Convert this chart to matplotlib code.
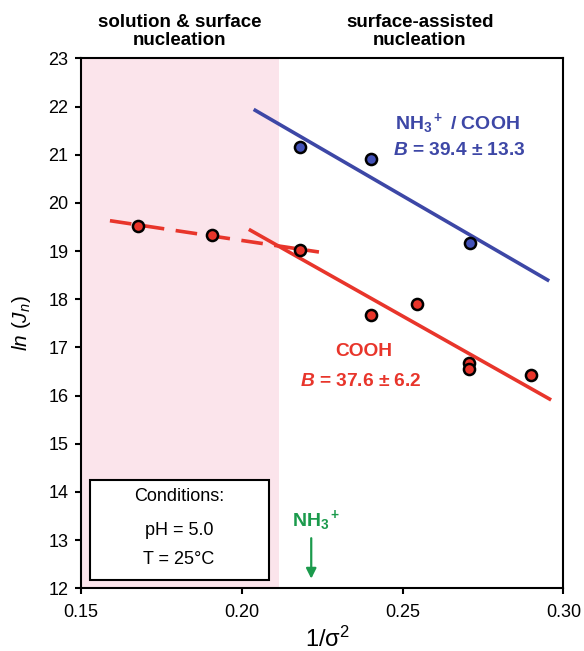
import matplotlib
matplotlib.use("Agg")
import matplotlib.pyplot as plt
from matplotlib.patches import Rectangle

plt.rcParams['font.family'] = ['Liberation Sans', 'DejaVu Sans']
plt.rcParams['mathtext.fontset'] = 'custom'
plt.rcParams['mathtext.rm'] = 'Liberation Sans'
plt.rcParams['mathtext.it'] = 'Liberation Sans:italic'
plt.rcParams['mathtext.bf'] = 'Liberation Sans:bold'
plt.rcParams['mathtext.bfit'] = 'Liberation Sans:bold:italic'

# data
cooh_x = [0.1676, 0.1906, 0.2182, 0.2403, 0.2546, 0.2706, 0.2706, 0.2900]
cooh_y = [19.52, 19.34, 19.02, 17.68, 17.90, 16.68, 16.56, 16.43]
nh3_x = [0.2182, 0.2403, 0.2710]
nh3_y = [21.16, 20.91, 19.16]

# fitted lines (end points)
fit_nh3_x = [0.2037, 0.2956]
fit_nh3_y = [21.94, 18.38]
fit_cooh_x = [0.2022, 0.2962]
fit_cooh_y = [19.45, 15.91]
fit_sol_x = [0.159, 0.224]
fit_sol_y = [19.63, 18.98]

shade_end = 0.2116
arrow_x = 0.2216

red = '#e8352b'
blue = '#3d47a6'
green = '#1b9a4c'

fig = plt.figure(figsize=(5.84, 6.51), dpi=100)
ax = fig.add_axes([0.1387, 0.0963, 0.8259, 0.8141])

ax.axvspan(0.15, shade_end, color='#fbe4eb', lw=0, zorder=0)

ax.plot(fit_nh3_x, fit_nh3_y, color=blue, lw=2.6, solid_capstyle='butt', zorder=2)
ax.plot(fit_cooh_x, fit_cooh_y, color=red, lw=2.6, solid_capstyle='butt', zorder=2)
ax.plot(fit_sol_x, fit_sol_y, color=red, lw=2.6, dashes=(6, 3.2), zorder=2)

ax.plot(cooh_x, cooh_y, 'o', ms=8, mfc=red, mec='black', mew=1.8, zorder=3)
ax.plot(nh3_x, nh3_y, 'o', ms=8, mfc='#4352b8', mec='black', mew=1.8, zorder=3)

ax.set_xlim(0.15, 0.30)
ax.set_ylim(12, 23)
ax.set_xticks([0.15, 0.20, 0.25, 0.30])
ax.set_xticklabels(['0.15', '0.20', '0.25', '0.30'])
ax.set_yticks(range(12, 24))
ax.tick_params(direction='out', length=4, width=1.5, labelsize=13)
ax.tick_params(axis='y', pad=5)
ax.tick_params(axis='x', pad=7)
for s in ax.spines.values():
    s.set_linewidth(1.5)

ax.set_ylabel(r'$ln\ (J_n)$', fontsize=15)
ax.yaxis.set_label_coords(-0.1, 0.5)
ax.set_xlabel(r'1/$\mathregular{\sigma^2}$', fontsize=17)
ax.xaxis.set_label_coords(0.51, -0.072)

# headers
fig.text(0.308, 0.952, 'solution & surface\nnucleation', ha='center', va='center',
         fontsize=13.5, fontweight='bold', linespacing=1.05)
fig.text(0.719, 0.952, 'surface-assisted\nnucleation', ha='center', va='center',
         fontsize=13.5, fontweight='bold', linespacing=1.05)

# annotations
ax.text(0.2671, 21.65, r'$\mathbf{{NH_3}^+}$ / COOH', color=blue, fontsize=14,
        fontweight='bold', ha='center', va='center')
ax.text(0.2677, 21.09, r'$\mathbfit{B}$ = 39.4 ± 13.3', color=blue,
        fontsize=13.8, fontweight='bold', ha='center', va='center')
ax.text(0.2379, 16.91, 'COOH', color=red, fontsize=13.8, fontweight='bold',
        ha='center', va='center')
ax.text(0.2370, 16.29, r'$\mathbfit{B}$ = 37.6 ± 6.2', color=red,
        fontsize=13.8, fontweight='bold', ha='center', va='center')

# conditions box
ax.add_patch(Rectangle((0.1529, 12.18), 0.0556, 2.07, transform=ax.transData,
                       facecolor='white', edgecolor='black', lw=1.5, zorder=4))
ax.text(0.1804, 13.90, 'Conditions:', fontsize=13, ha='center', va='center', zorder=5)
ax.text(0.1804, 13.21, 'pH = 5.0', fontsize=13, ha='center', va='center', zorder=5)
ax.text(0.1804, 12.59, 'T = 25°C', fontsize=13, ha='center', va='center', zorder=5)

# NH3+ arrow
ax.text(0.2232, 13.40, r'$\mathbf{{NH_3}^+}$', color=green, fontsize=14,
        ha='center', va='center')
ax.annotate('', xy=(arrow_x, 12.2), xytext=(arrow_x, 13.04),
            arrowprops=dict(arrowstyle='-|>', color=green, lw=1.6,
                            mutation_scale=15, shrinkA=0, shrinkB=0))

fig.savefig('out.png', dpi=100)
